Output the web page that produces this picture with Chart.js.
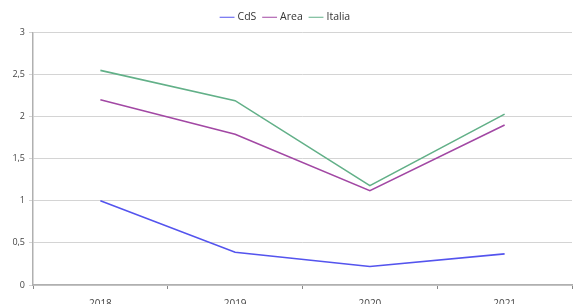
<!DOCTYPE html>
<html>
<head>
<meta charset="utf-8">
<script src="https://cdn.jsdelivr.net/npm/chart.js@4"></script>
<style>
  html, body { margin: 0; padding: 0; background: #fff; }
  canvas { display: block; }
</style>
</head>
<body>
<canvas id="chart" width="573" height="304"></canvas>
<script>
const years = ['2018', '2019', '2020', '2021'];
const cds = [1.00, 0.39, 0.22, 0.37];
const area = [2.20, 1.79, 1.12, 1.90];
const italia = [2.55, 2.19, 1.18, 2.03];

const ctx = document.getElementById('chart').getContext('2d');

new Chart(ctx, {
  type: 'line',
  data: {
    labels: years,
    datasets: [
      { label: 'CdS', data: cds, borderColor: '#5454ee', backgroundColor: '#5454ee' },
      { label: 'Area', data: area, borderColor: '#a248a4', backgroundColor: '#a248a4' },
      { label: 'Italia', data: italia, borderColor: '#62b088', backgroundColor: '#62b088' },
    ],
  },
  options: {
    responsive: false,
    animation: false,
    layout: { padding: { top: 4, right: 1, left: 0, bottom: 0 } },
    elements: {
      line: { borderWidth: 1.6, tension: 0 },
      point: { radius: 0 },
    },
    plugins: {
      tooltip: { enabled: false },
      legend: {
        position: 'top',
        labels: {
          usePointStyle: true,
          pointStyle: 'line',
          boxWidth: 24,
          padding: 8,
          color: '#333',
          font: { family: 'Open Sans', size: 10.5 },
        },
      },
    },
    scales: {
      x: {
        offset: true,
        grid: { offset: true, drawOnChartArea: false, tickLength: 4, color: '#888' },
        border: { color: '#b0b0b0', width: 1.5 },
        ticks: { color: '#444', padding: 9, font: { family: 'Open Sans', size: 10 } },
        afterFit: (scale) => { scale.height = 19; },
      },
      y: {
        min: 0,
        max: 3,
        ticks: {
          stepSize: 0.5,
          color: '#444',
          padding: 4,
          font: { family: 'Open Sans', size: 9 },
          callback: (v) => String(v).replace('.', ','),
        },
        grid: { color: '#d4d4d4', tickLength: 4, lineWidth: 1 },
        border: { color: '#b0b0b0', width: 1.5 },
        afterFit: (scale) => { scale.width = 33; },
      },
    },
  },
});
</script>
</body>
</html>
